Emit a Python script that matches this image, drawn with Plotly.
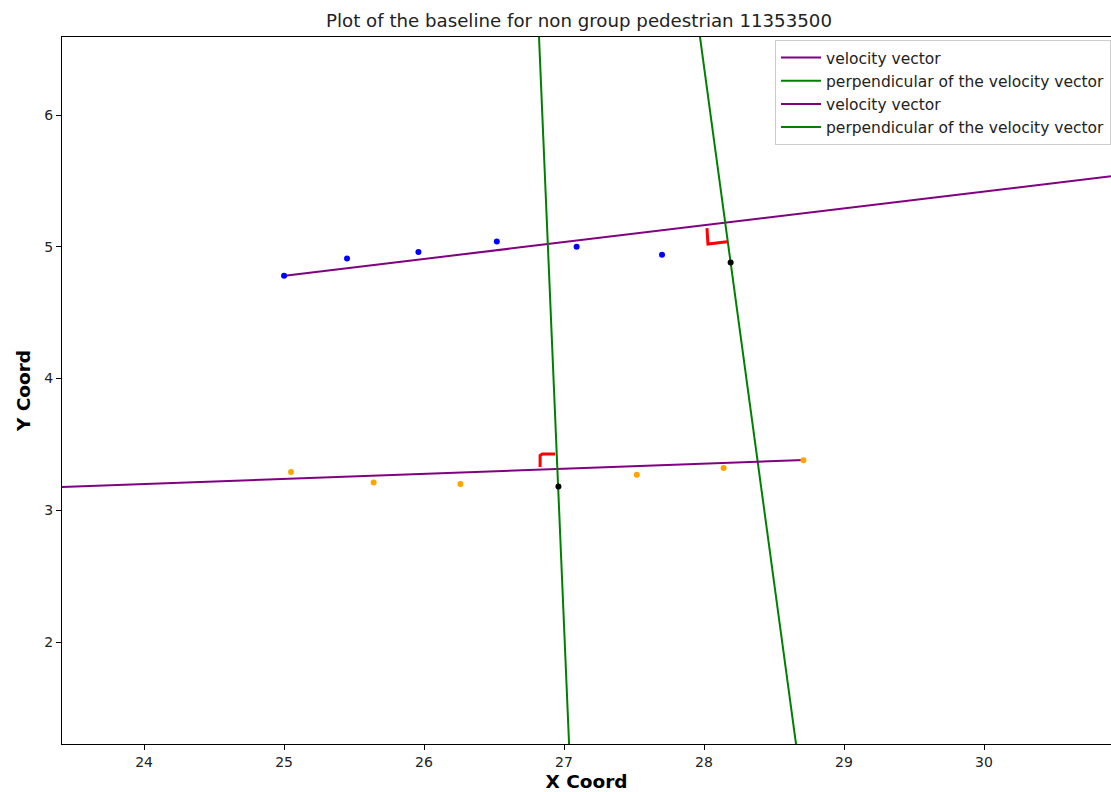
import plotly.graph_objects as go

# Tracked positions
blue_x = [25.00, 25.45, 25.96, 26.52, 27.09, 27.70]
blue_y = [4.78, 4.91, 4.96, 5.04, 5.00, 4.94]
orange_x = [25.05, 25.64, 26.26, 27.52, 28.14, 28.71]
orange_y = [3.29, 3.21, 3.20, 3.27, 3.32, 3.38]
black_x = [28.19, 26.96]
black_y = [4.88, 3.18]

# Velocity vectors (purple) and perpendiculars (green)
vel1_x = [24.99, 31.50]
vel1_y = [4.778, 5.611]
perp1_x = [27.919, 28.686]
perp1_y = [7.0, 1.0]
vel2_x = [23.00, 28.714]
vel2_y = [3.160, 3.381]
perp2_x = [26.805, 27.045]
perp2_y = [7.0, 1.0]

# Right-angle markers (red)
ra1_x = [28.021, 28.028, 28.164]
ra1_y = [5.142, 5.021, 5.038]
ra2_x = [26.829, 26.829, 26.845, 26.936]
ra2_y = [3.328, 3.415, 3.427, 3.427]

x_ticks = [24, 25, 26, 27, 28, 29, 30]
y_ticks = [2, 3, 4, 5, 6]

FONT = "DejaVu Sans"
fig = go.Figure()

fig.add_trace(go.Scatter(x=vel1_x, y=vel1_y, mode="lines", name="velocity vector",
                         legendgroup="a", line=dict(color="purple", width=2)))
fig.add_trace(go.Scatter(x=perp1_x, y=perp1_y, mode="lines", name="perpendicular of the velocity vector",
                         legendgroup="b", line=dict(color="green", width=2)))
fig.add_trace(go.Scatter(x=vel2_x, y=vel2_y, mode="lines", name="velocity vector",
                         legendgroup="c", line=dict(color="purple", width=2)))
fig.add_trace(go.Scatter(x=perp2_x, y=perp2_y, mode="lines", name="perpendicular of the velocity vector",
                         legendgroup="d", line=dict(color="green", width=2)))

fig.add_trace(go.Scatter(x=ra1_x, y=ra1_y, mode="lines", showlegend=False,
                         line=dict(color="red", width=3)))
fig.add_trace(go.Scatter(x=ra2_x, y=ra2_y, mode="lines", showlegend=False,
                         line=dict(color="red", width=3)))

fig.add_trace(go.Scatter(x=blue_x, y=blue_y, mode="markers", showlegend=False,
                         marker=dict(color="blue", size=6)))
fig.add_trace(go.Scatter(x=orange_x, y=orange_y, mode="markers", showlegend=False,
                         marker=dict(color="orange", size=6)))
fig.add_trace(go.Scatter(x=black_x, y=black_y, mode="markers", showlegend=False,
                         marker=dict(color="black", size=6)))

fig.update_layout(
    width=1111, height=792,
    margin=dict(l=62, r=0, t=37, b=48),
    paper_bgcolor="white", plot_bgcolor="white",
    font=dict(family=FONT, size=14, color="black"),
    title=dict(text="Plot of the baseline for non group pedestrian 11353500",
               x=579 / 1111, xref="container", xanchor="center",
               y=1 - 21 / 792, yref="container", yanchor="middle",
               font=dict(size=18.2, family=FONT, color="#222222")),
    legend=dict(x=1.0, xanchor="right", y=1 - 3 / 707, yanchor="top",
                bgcolor="white", bordercolor="#cccccc", borderwidth=1,
                font=dict(size=15.5, family=FONT, color="#222222"),
                tracegroupgap=0, itemwidth=40),
    showlegend=True,
)
fig.update_xaxes(range=[23.414, 30.907], tickvals=x_ticks, ticktext=[str(v) for v in x_ticks],
                 showgrid=False, zeroline=False, showline=True, linecolor="black", linewidth=1,
                 mirror=True, ticks="outside", ticklen=5, tickcolor="black",
                 tickfont=dict(color="#222222"),
                 title=dict(text="<b>X Coord</b>", font=dict(size=18.5, family=FONT), standoff=8))
fig.update_yaxes(range=[1.226, 6.592], tickvals=y_ticks, ticktext=[str(v) for v in y_ticks],
                 showgrid=False, zeroline=False, showline=True, linecolor="black", linewidth=1,
                 mirror=False, ticks="outside", ticklen=5, tickcolor="black",
                 tickfont=dict(color="#222222"),
                 title=dict(text="<b>Y Coord</b>", font=dict(size=18.5, family=FONT), standoff=8))

fig.write_html("out.html", config={"displayModeBar": False},
               post_script="document.body.style.margin='0';document.body.style.overflow='hidden';")
